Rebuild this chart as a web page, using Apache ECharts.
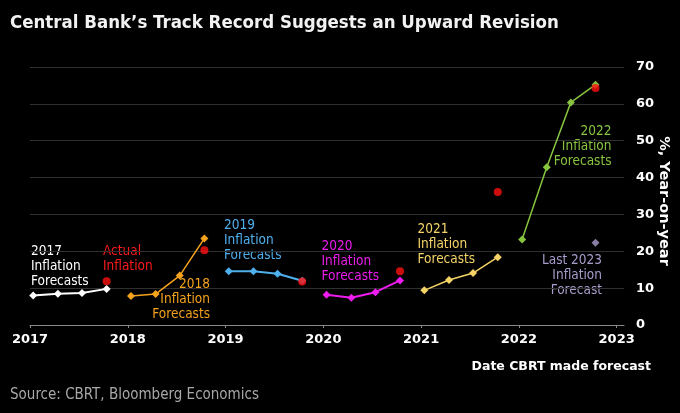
<!DOCTYPE html>
<html>
<head>
<meta charset="utf-8">
<script src="https://cdn.jsdelivr.net/npm/echarts@6/dist/echarts.min.js"></script>
<style>
html,body{margin:0;padding:0;background:#000;}
#chart{width:680px;height:413px;}
</style>
</head>
<body>
<div id="chart"></div>
<script>
// ---- Data ----
const yearTicks = [2017, 2018, 2019, 2020, 2021, 2022, 2023];
const yTicks = [0, 10, 20, 30, 40, 50, 60, 70];

const dates2017 = ['2017-01-13', '2017-04-15', '2017-07-14', '2017-10-14'];
const fc2017 = [8.0, 8.5, 8.7, 9.8];
const dates2018 = ['2018-01-13', '2018-04-15', '2018-07-14', '2018-10-14'];
const fc2018 = [7.9, 8.4, 13.4, 23.5];
const dates2019 = ['2019-01-13', '2019-04-15', '2019-07-14', '2019-10-14'];
const fc2019 = [14.6, 14.6, 13.9, 12.0];
const dates2020 = ['2020-01-13', '2020-04-15', '2020-07-14', '2020-10-14'];
const fc2020 = [8.2, 7.4, 8.9, 12.1];
const dates2021 = ['2021-01-13', '2021-04-15', '2021-07-14', '2021-10-14'];
const fc2021 = [9.4, 12.2, 14.1, 18.4];
const dates2022 = ['2022-01-13', '2022-04-15', '2022-07-14', '2022-10-14'];
const fc2022 = [23.2, 42.8, 60.4, 65.2];

const actualDates = ['2017-10-14', '2018-10-14', '2019-10-14', '2020-10-14', '2021-10-14', '2022-10-14'];
const actualInflation = [11.9, 20.3, 11.8, 14.6, 36.1, 64.3];

const last2023Dates = ['2022-10-14'];
const last2023Forecast = [22.3];

// ---- helpers ----
function yearFrac(s) {
  const d = Date.parse(s + 'T00:00:00Z');
  const y = new Date(d).getUTCFullYear();
  const a = Date.UTC(y, 0, 1), b = Date.UTC(y + 1, 0, 1);
  return y + (d - a) / (b - a);
}
function pairs(dates, vals) { return dates.map((d, i) => [yearFrac(d), vals[i]]); }

const FONT = "'DejaVu Sans Condensed', 'Liberation Sans Narrow', 'DejaVu Sans', sans-serif";
const BOLD = "'DejaVu Sans', sans-serif";

function lineSeries(name, dates, vals, color, width) {
  return {
    name: name, type: 'line', data: pairs(dates, vals),
    symbol: 'diamond', symbolSize: 8, showSymbol: true,
    lineStyle: { color: color, width: width },
    itemStyle: { color: color },
    emphasis: { disabled: true }, animation: false, z: 3
  };
}

const chart = echarts.init(document.getElementById('chart'), null, { renderer: 'canvas' });

function annot(text, x, y, color, align) {
  return {
    type: 'text', x: x, y: y, silent: true,
    style: { text: text, fill: color, font: "13.5px " + FONT, textAlign: align, textVerticalAlign: 'top', lineHeight: 15 }
  };
}

const option = {
  backgroundColor: '#000',
  animation: false,
  grid: { left: 30, right: 56, top: 67, bottom: 88, containLabel: false, outerBoundsMode: 'none' },
  xAxis: {
    type: 'value', min: 2017, max: 2023.075, interval: 1,
    axisLine: { show: true, lineStyle: { color: '#8a8a8a', width: 1 } },
    axisTick: { show: true, length: 3, lineStyle: { color: '#8a8a8a' }, customValues: yearTicks },
    axisLabel: { color: '#fff', fontFamily: BOLD, fontWeight: 'bold', fontSize: 13, margin: 8, customValues: yearTicks, formatter: v => String(Math.round(v)) },
    splitLine: { show: false }
  },
  yAxis: {
    type: 'value', position: 'right', min: 0, max: 70, interval: 10,
    axisLine: { show: false }, axisTick: { show: false },
    axisLabel: { color: '#fff', fontFamily: BOLD, fontWeight: 'bold', fontSize: 13, margin: 12 },
    splitLine: { show: true, lineStyle: { color: '#303030', width: 1 } }
  },
  series: [
    lineSeries('2017', dates2017, fc2017, '#ffffff', 2),
    lineSeries('2018', dates2018, fc2018, '#f5a21c', 1.5),
    lineSeries('2019', dates2019, fc2019, '#4fb0ee', 2),
    lineSeries('2020', dates2020, fc2020, '#ee1cee', 2),
    lineSeries('2021', dates2021, fc2021, '#f5d467', 1.5),
    lineSeries('2022', dates2022, fc2022, '#86c440', 1.5),
    {
      name: 'Last 2023', type: 'scatter', data: pairs(last2023Dates, last2023Forecast),
      symbol: 'diamond', symbolSize: 8, itemStyle: { color: '#a99ccb' }, z: 3
    },
    {
      name: 'Actual', type: 'scatter', data: pairs(actualDates, actualInflation),
      symbol: 'circle', symbolSize: 8, itemStyle: { color: '#ff1010' }, z: 4
    }
  ],
  graphic: [
    { type: 'text', x: 10, y: 23, silent: true,
      style: { text: 'Central Bank\u2019s Track Record Suggests an Upward Revision', fill: '#f2f2f2', font: "bold 18.5px " + FONT, textAlign: 'left', textVerticalAlign: 'middle' } },
    { type: 'text', x: 664, y: 201, rotation: -Math.PI / 2, silent: true,
      style: { text: '%, Year-on-year', fill: '#fff', font: "bold 14.5px " + BOLD, textAlign: 'center', textVerticalAlign: 'middle' } },
    { type: 'text', x: 651, y: 367, silent: true,
      style: { text: 'Date CBRT made forecast', fill: '#fff', font: "bold 12.5px " + BOLD, textAlign: 'right', textVerticalAlign: 'middle' } },
    { type: 'text', x: 10, y: 395, silent: true,
      style: { text: 'Source: CBRT, Bloomberg Economics', fill: '#a8a8a8', font: "15px " + FONT, textAlign: 'left', textVerticalAlign: 'middle' } },
    annot('2017\nInflation\nForecasts', 31, 244, '#ffffff', 'left'),
    annot('Actual\nInflation', 103, 243.5, '#ff1a1a', 'left'),
    annot('2018\nInflation\nForecasts', 210, 277, '#f5a21c', 'right'),
    annot('2019\nInflation\nForecasts', 224, 218, '#4fb0ee', 'left'),
    annot('2020\nInflation\nForecasts', 321.5, 239, '#ee1cee', 'left'),
    annot('2021\nInflation\nForecasts', 417.5, 222, '#f5d467', 'left'),
    annot('2022\nInflation\nForecasts', 611.5, 123.5, '#86c440', 'right'),
    annot('Last 2023\nInflation\nForecast', 602, 252.5, '#a99ccb', 'right')
  ]
};
chart.setOption(option);
</script>
</body>
</html>
